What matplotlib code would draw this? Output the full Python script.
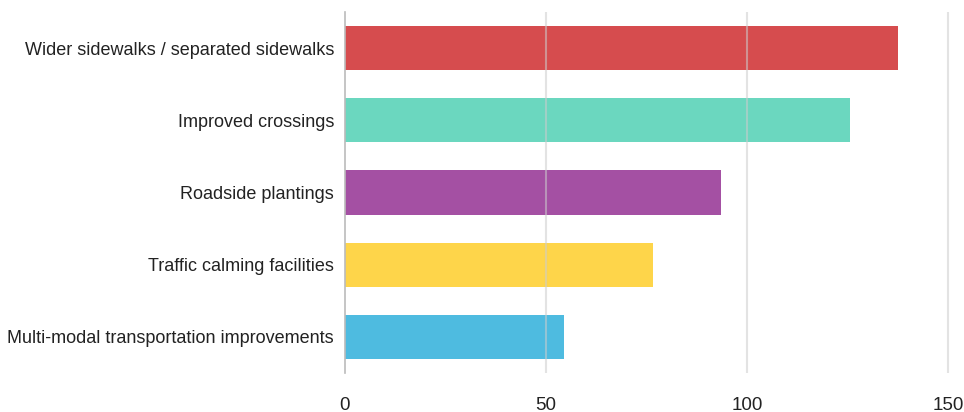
import matplotlib
matplotlib.use("Agg")
import matplotlib.pyplot as plt

categories = ["Multi-modal transportation improvements",
              "Traffic calming facilities",
              "Roadside plantings",
              "Improved crossings",
              "Wider sidewalks / separated sidewalks"]
values = [54.5, 76.5, 93.5, 125.5, 137.5]
colors = ["#4EBBE0", "#FED54A", "#A450A3", "#6BD7BF", "#D64C4E"]
xticks = [0, 50, 100, 150]

plt.rcParams["font.family"] = ["Liberation Sans", "DejaVu Sans"]

fig = plt.figure(figsize=(9.64, 4.12), dpi=100)
ax = fig.add_axes([345/964, 1-373/412, (960-345)/964, (373-12)/412])
ax.barh(range(len(categories)), values, height=0.61, color=colors, zorder=1)
ax.set_ylim(-0.5, 4.5)
ax.set_xlim(0, 615/4.02)
ax.set_xticks(xticks)
ax.set_xticklabels([str(t) for t in xticks], fontsize=13.5)
ax.set_yticks(range(len(categories)))
ax.set_yticklabels(categories, fontsize=13)
ax.tick_params(axis="x", length=0, pad=17, colors="#222222")
ax.tick_params(axis="y", length=0, pad=8, colors="#222222")
for t in xticks[1:]:
    ax.axvline(t, color="#cccccc", lw=1.5, alpha=0.55, zorder=2)
for s in ["top", "right", "bottom"]:
    ax.spines[s].set_visible(False)
ax.spines["left"].set_color("#bbbbbb")
ax.spines["left"].set_linewidth(1.2)
fig.savefig("out.png", dpi=100)
